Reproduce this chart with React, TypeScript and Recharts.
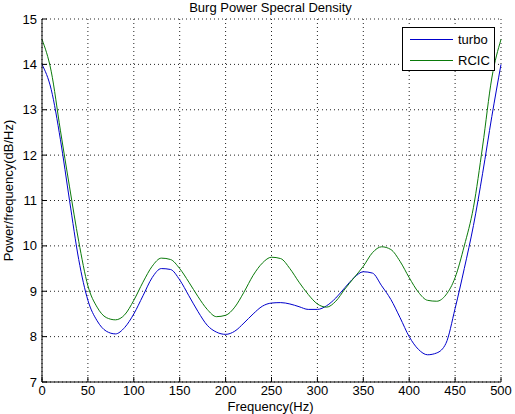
import React from 'react';
import { LineChart, Line, XAxis, YAxis, CartesianGrid } from 'recharts';

// Frequency bins (Hz) and Burg PSD estimates (dB/Hz)
const freqs = [
  0, 10, 20, 30, 40, 50, 60, 70, 80, 90,
  100, 110, 120, 130, 140, 150, 160, 170, 180, 190,
  200, 210, 220, 230, 240, 250, 260, 270, 280, 290,
  300, 310, 320, 330, 340, 350, 360, 370, 380, 390,
  400, 410, 420, 430, 440, 450, 460, 470, 480, 490, 500,
];

const turboPsd = [
  14.0, 13.45, 12.35, 11.0, 9.7, 8.8, 8.35, 8.12, 8.06, 8.2,
  8.5, 8.9, 9.3, 9.5, 9.48, 9.25, 8.9, 8.55, 8.25, 8.1,
  8.05, 8.12, 8.3, 8.5, 8.67, 8.74, 8.75, 8.72, 8.66, 8.6,
  8.6, 8.68, 8.85, 9.08, 9.3, 9.43, 9.4, 9.12, 8.82, 8.42,
  8.0, 7.72, 7.6, 7.64, 7.85, 8.62, 9.5, 10.45, 11.6, 12.85, 14.0,
];

const rcicPsd = [
  14.55, 13.85, 12.55, 11.3, 10.1, 9.12, 8.65, 8.42, 8.37, 8.48,
  8.8, 9.2, 9.55, 9.73, 9.7, 9.5, 9.2, 8.88, 8.6, 8.44,
  8.47, 8.65, 8.98, 9.35, 9.62, 9.75, 9.72, 9.5, 9.2, 8.93,
  8.72, 8.65, 8.78, 9.05, 9.3, 9.55, 9.85, 9.98, 9.92, 9.66,
  9.3, 8.98, 8.8, 8.78, 8.92, 9.3, 10.0, 10.85, 12.2, 13.7, 14.55,
];

const xTicks = [0, 50, 100, 150, 200, 250, 300, 350, 400, 450, 500];
const yTicks = [7, 8, 9, 10, 11, 12, 13, 14, 15];

const data = freqs.map((f, i) => ({ freq: f, turbo: turboPsd[i], rcic: rcicPsd[i] }));

const FONT = '"Liberation Sans", Arial, Helvetica, sans-serif';
const tickStyle = { fill: '#000', fontSize: 13, fontFamily: FONT };
const TURBO = '#0000cc';
const RCIC = '#0a7a0a';

// matlab-style legend box, drawn over the plot
const LegendBox = () => (
  <div
    style={{
      position: 'absolute',
      left: 402,
      top: 27,
      width: 93,
      height: 44,
      border: '1px solid #000',
      background: '#fff',
      fontSize: 13,
      boxSizing: 'border-box',
    }}
  >
    <div style={{ display: 'flex', alignItems: 'center', height: 21, paddingTop: 1 }}>
      <span style={{ display: 'inline-block', width: 43, borderTop: `1px solid ${TURBO}`, marginLeft: 7, marginRight: 5 }} />
      <span>turbo</span>
    </div>
    <div style={{ display: 'flex', alignItems: 'center', height: 20 }}>
      <span style={{ display: 'inline-block', width: 43, borderTop: `1px solid ${RCIC}`, marginLeft: 7, marginRight: 5 }} />
      <span>RCIC</span>
    </div>
  </div>
);

export default function App() {
  return (
    <div style={{ position: 'absolute', left: 0, top: 0, width: 515, height: 414, background: '#fff', overflow: 'hidden', fontFamily: FONT }}>
      <LineChart width={515} height={414} data={data} margin={{ top: 19, right: 14, bottom: 0, left: 0 }}>
        <CartesianGrid stroke="#222" strokeDasharray="1 3" />
        <XAxis
          dataKey="freq"
          type="number"
          domain={[0, 500]}
          ticks={xTicks}
          height={32}
          tick={tickStyle}
          tickSize={-5}
          tickMargin={9}
          axisLine={{ stroke: '#000' }}
          tickLine={{ stroke: '#000' }}
          interval={0}
        />
        <XAxis
          xAxisId="top"
          orientation="top"
          dataKey="freq"
          type="number"
          domain={[0, 500]}
          ticks={xTicks}
          height={0}
          tick={false}
          tickSize={-5}
          axisLine={{ stroke: '#000' }}
          tickLine={{ stroke: '#000' }}
        />
        <YAxis
          type="number"
          domain={[7, 15]}
          ticks={yTicks}
          width={42}
          tick={tickStyle}
          tickSize={-5}
          tickMargin={10}
          axisLine={{ stroke: '#000' }}
          tickLine={{ stroke: '#000' }}
          interval={0}
        />
        <YAxis
          yAxisId="right"
          orientation="right"
          type="number"
          domain={[7, 15]}
          ticks={yTicks}
          width={0}
          tick={false}
          tickSize={-5}
          axisLine={{ stroke: '#000' }}
          tickLine={{ stroke: '#000' }}
        />
        <Line type="monotone" dataKey="turbo" stroke={TURBO} strokeWidth={1} dot={false} isAnimationActive={false} />
        <Line type="monotone" dataKey="rcic" stroke={RCIC} strokeWidth={1} dot={false} isAnimationActive={false} />
      </LineChart>
      <LegendBox />
      <div style={{ position: 'absolute', left: 0, width: 541, top: 0, textAlign: 'center', fontSize: 13, lineHeight: '15px', color: '#000' }}>
        Burg Power Specral Density
      </div>
      <div style={{ position: 'absolute', left: 0, width: 541, top: 399, textAlign: 'center', fontSize: 13, lineHeight: '15px', color: '#000' }}>
        Frequency(Hz)
      </div>
      <div
        style={{
          position: 'absolute',
          left: 7.5 - 100,
          top: 190 - 7.5,
          width: 200,
          textAlign: 'center',
          fontSize: 13,
          lineHeight: '15px',
          color: '#000',
          transform: 'rotate(-90deg)',
        }}
      >
        Power/frequency(dB/Hz)
      </div>
    </div>
  );
}
